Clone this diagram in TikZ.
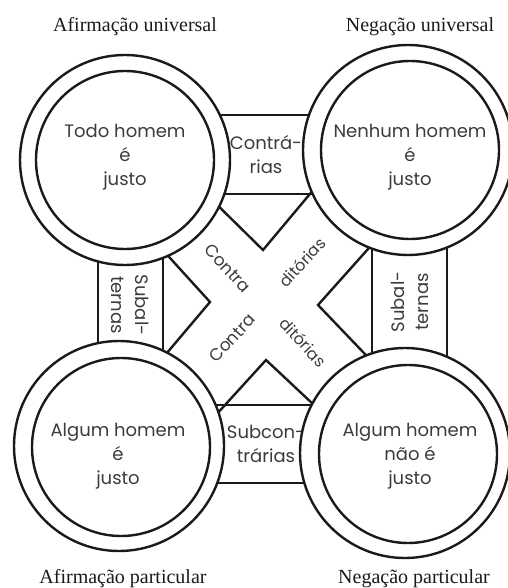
\documentclass[tikz,border=0pt]{standalone}
\usepackage{fontspec}
\setmainfont{Liberation Serif}
\newfontfamily\gothic{Poppins}
\definecolor{ink}{HTML}{1A1A1A}
\definecolor{txtc}{HTML}{3C3C3C}
\begin{document}
\begin{tikzpicture}[x=1pt,y=-1pt,
  ring/.style={circle, draw=ink, line width=2.4pt, fill=white, minimum size=210pt, inner sep=0pt},
  core/.style={circle, draw=ink, line width=2.4pt, fill=white, minimum size=178pt, inner sep=0pt},
  sans/.style={font=\gothic\fontsize{18}{24}\selectfont, text=txtc, align=center, inner sep=0pt},
  diag/.style={font=\gothic\fontsize{16}{20}\selectfont, text=txtc, inner sep=0pt},
  band/.style={draw=ink, line width=2.4pt, fill=white, inner sep=0pt, sans},
  notch/.style={draw=ink, line width=2.4pt, line join=miter},
  lbl/.style={font=\fontsize{20}{24}\selectfont, anchor=base, text=ink, inner sep=0pt}]
\useasboundingbox (0,0) rectangle (507,588);
% bands between the circles
\node[band, minimum width=140pt, minimum height=79pt] (contr) at (266,154.5) {Contrá-\\rias};
\node[band, minimum width=140pt, minimum height=78pt] (subc) at (266,444) {Subcon-\\trárias};
\node[band, rotate=-90, minimum width=130pt, minimum height=65pt] (subl) at (130.5,305) {Subal-\\ternas};
\node[band, rotate=90, minimum width=145pt, minimum height=75pt] (subr) at (409.5,302) {Subal-\\ternas};
% the X of the contradictories
\coordinate (t1) at (200,188); \coordinate (ta) at (263,250); \coordinate (t2) at (330,170);
\coordinate (l1) at (150,236); \coordinate (la) at (210,302); \coordinate (l2) at (150,373);
\coordinate (r1) at (385,230); \coordinate (ra) at (318,305); \coordinate (r2) at (385,375);
\coordinate (b1) at (205,427); \coordinate (ba) at (266,360); \coordinate (b2) at (330,420);
\draw[notch] (t1) -- (ta) -- (t2);
\draw[notch] (l1) -- (la) -- (l2);
\draw[notch] (r1) -- (ra) -- (r2);
\draw[notch] (b1) -- (ba) -- (b2);
\node[diag, font=\gothic\fontsize{17}{20}\selectfont, rotate=-47] (d1) at (228,268) {Contra};
\node[diag, rotate=47] (d2) at (302,262) {ditórias};
\node[diag, font=\gothic\fontsize{17}{20}\selectfont, rotate=47] (d3) at (232,338) {Contra};
\node[diag, rotate=-47] (d4) at (303,342) {ditórias};
% circles
\node[ring] (tlo) at (125,160) {};
\node[core] (tli) at (125,160) {};
\node[ring] (tro) at (408,150) {};
\node[core] (tri) at (410,150) {};
\node[ring] (blo) at (119,446) {};
\node[core] (bli) at (121,447) {};
\node[ring] (bro) at (405,453) {};
\node[core] (bri) at (408,454) {};
\node[sans] (tlt) at (125,157) {Todo homem\\é\\justo};
\node[sans] (trt) at (410,157) {Nenhum homem\\é\\justo};
\node[sans] (blt) at (118,456) {Algum homem\\é\\justo};
\node[sans] (brt) at (410,456) {Algum homem\\não é\\justo};
% labels
\node[lbl] (au) at (135,32) {Afirmação universal};
\node[lbl] (nu) at (420,32) {Negação universal};
\node[lbl] (ap) at (123,583) {Afirmação particular};
\node[lbl] (np) at (414,583) {Negação particular};
\end{tikzpicture}
\end{document}
